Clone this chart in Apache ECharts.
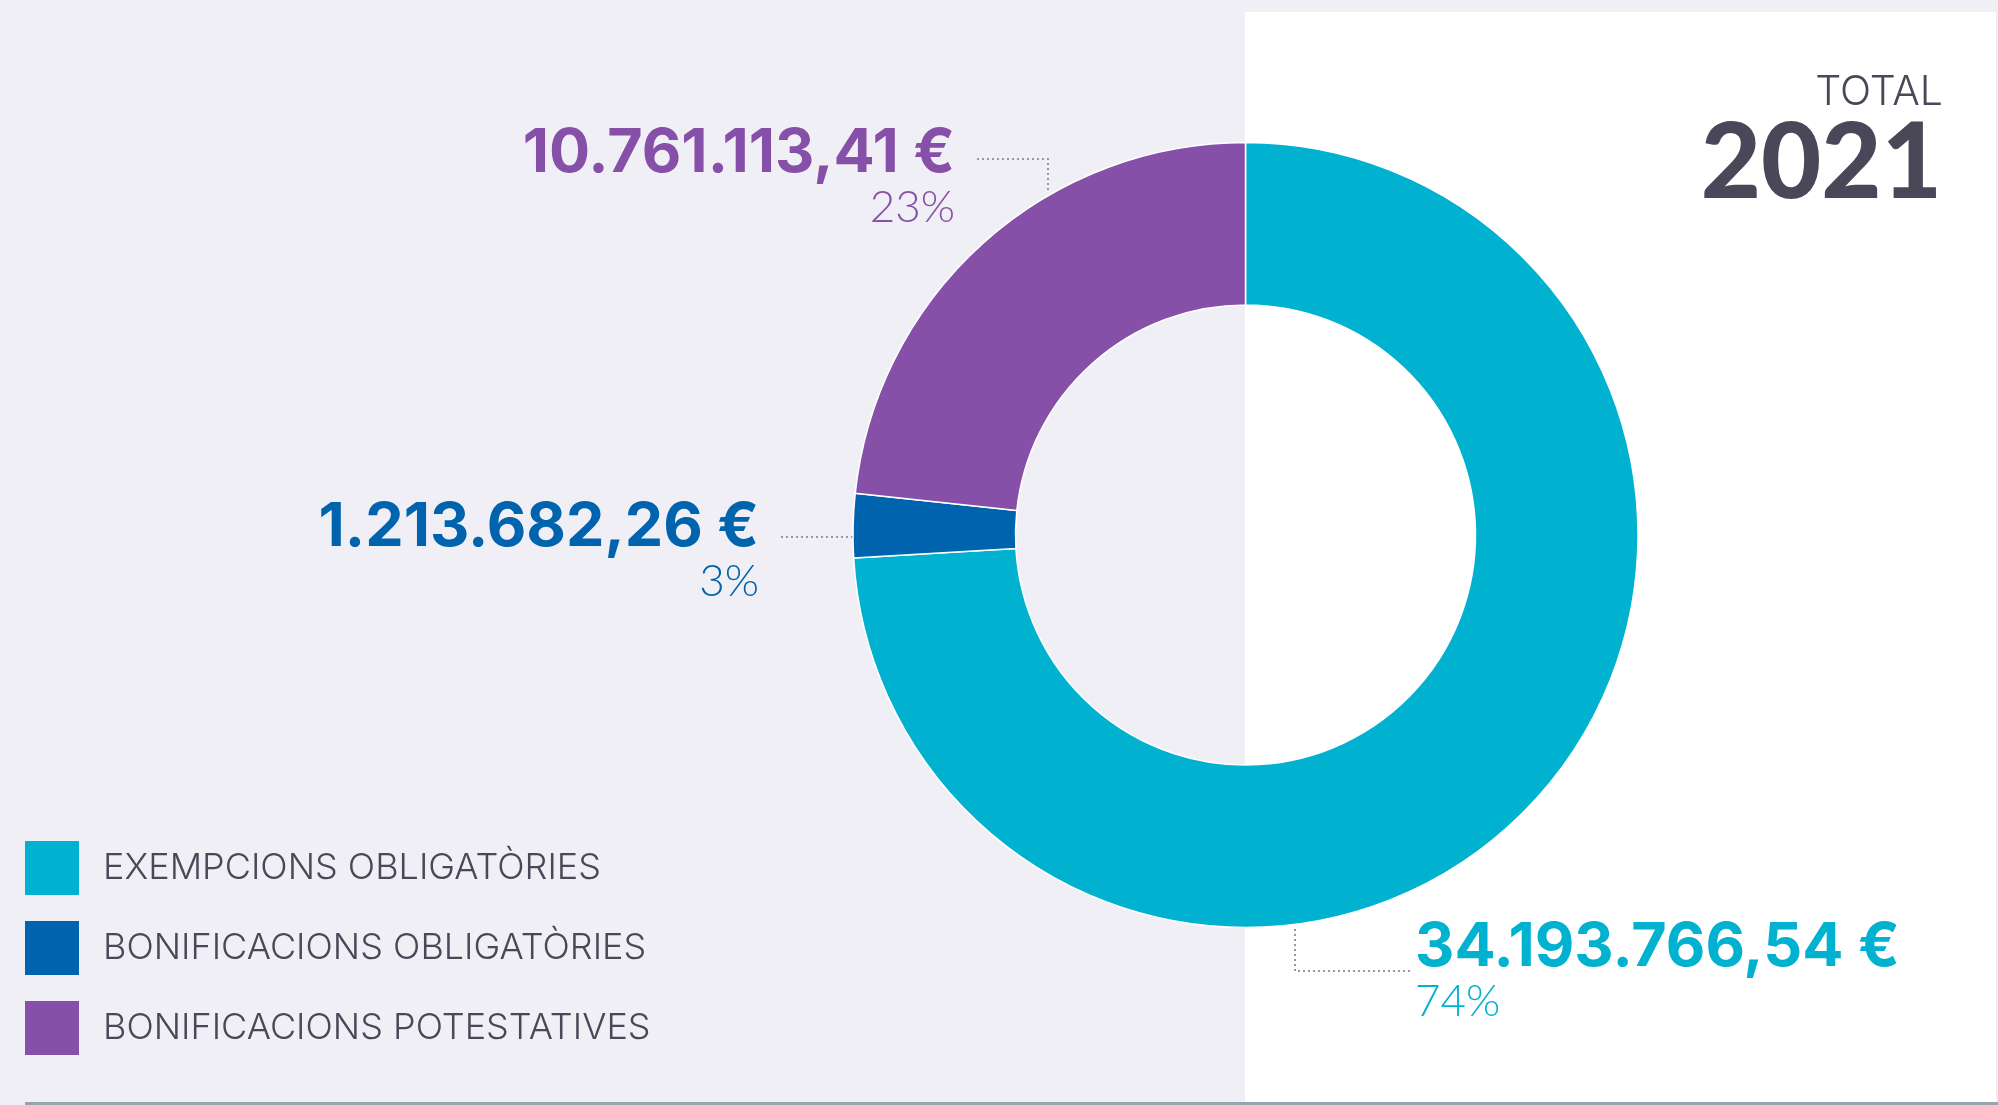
<!DOCTYPE html>
<html>
<head>
<meta charset="utf-8">
<script src="https://cdn.jsdelivr.net/npm/echarts@6/dist/echarts.min.js"></script>
<style>
html,body{margin:0;padding:0;background:#f0eff5;}
#chart{width:1998px;height:1105px;}
</style>
</head>
<body>
<div id="chart"></div>
<script>
// ---- data ----
const categories = ['EXEMPCIONS OBLIGATÒRIES', 'BONIFICACIONS OBLIGATÒRIES', 'BONIFICACIONS POTESTATIVES'];
const values = [34193766.54, 1213682.26, 10761113.41];
const titleSmall = 'TOTAL';
const titleYear = '2021';

// ---- styles ----
const colors = ['#00b2cf', '#0063ae', '#8650a8'];
const textDark = '#4a4858';
const FONT = 'Lato, "Open Sans", sans-serif';
const FONT2 = 'Inter, Lato, sans-serif';

const total = values.reduce((a, b) => a + b, 0);
function fmtEuro(v) {
  const parts = v.toFixed(2).split('.');
  return parts[0].replace(/\B(?=(\d{3})+(?!\d))/g, '.') + ',' + parts[1] + ' €';
}

// label placement (layout only)
const labelPlace = [
  { x: 1415, y: 917, align: 'left',  pts: [[1295, 929], [1295, 971], [1412, 971]] },
  { x: 759,  y: 497, align: 'right', pts: [[853, 537], [815, 537], [778, 537]] },
  { x: 955,  y: 123, align: 'right', pts: [[1048, 190], [1048, 159], [975, 159]] }
];

const chart = echarts.init(document.getElementById('chart'), null, { renderer: 'canvas' });

const richBase = (c, al) => ({
  v: { fontFamily: FONT2, fontWeight: 700, fontSize: 61, lineHeight: 62, color: c, align: al },
  p: { fontFamily: FONT, fontWeight: 300, fontSize: 44, lineHeight: 46, color: c, align: al }
});

const option = {
  backgroundColor: '#f0eff5',
  animation: false,
  graphic: [
    { type: 'rect', z: -10, silent: true, shape: { x: 1245, y: 12, width: 751, height: 1090 }, style: { fill: '#ffffff' } },
    { type: 'rect', z: -10, silent: true, shape: { x: 25, y: 1102, width: 1973, height: 3 }, style: { fill: '#94a5af' } },
    { type: 'text', silent: true, x: 1943, y: 72, style: { text: titleSmall, font: '300 41px ' + FONT2, fill: textDark, textAlign: 'right', textVerticalAlign: 'top' } },
    { type: 'text', silent: true, x: 1942, y: 112, style: { text: titleYear, font: '900 104px ' + FONT, fill: textDark, textAlign: 'right', textVerticalAlign: 'top' } }
  ],
  legend: {
    orient: 'vertical',
    left: 25,
    top: 841,
    padding: 0,
    itemWidth: 54,
    itemHeight: 54,
    itemGap: 26,
    icon: 'rect',
    selectedMode: false,
    data: categories,
    itemStyle: { borderWidth: 0 },
    textStyle: { fontFamily: FONT2, fontWeight: 300, fontSize: 36, color: textDark, padding: [6, 0, 0, 19] }
  },
  series: [{
    type: 'pie',
    center: [1245.5, 535],
    radius: [230, 392.5],
    startAngle: 90,
    clockwise: true,
    avoidLabelOverlap: false,
    silent: true,
    emphasis: { disabled: true },
    itemStyle: { borderColor: '#ffffff', borderWidth: 1.5 },
    label: {
      show: true,
      position: 'outside',
      formatter: p => '{v|' + fmtEuro(p.value) + '}\n{p|' + Math.round(p.value / total * 100) + '%}'
    },
    labelLine: {
      show: true,
      lineStyle: { color: '#8c9ca6', width: 2, type: [2, 3] }
    },
    labelLayout: function (params) {
      const lp = labelPlace[params.dataIndex];
      return { x: lp.x, y: lp.y, align: lp.align, verticalAlign: 'top', labelLinePoints: lp.pts };
    },
    data: categories.map((name, i) => ({
      name: name,
      value: values[i],
      itemStyle: { color: colors[i] },
      label: { align: labelPlace[i].align, rich: richBase(colors[i], labelPlace[i].align) }
    }))
  }],
  color: colors
};

chart.setOption(option);
</script>
</body>
</html>
